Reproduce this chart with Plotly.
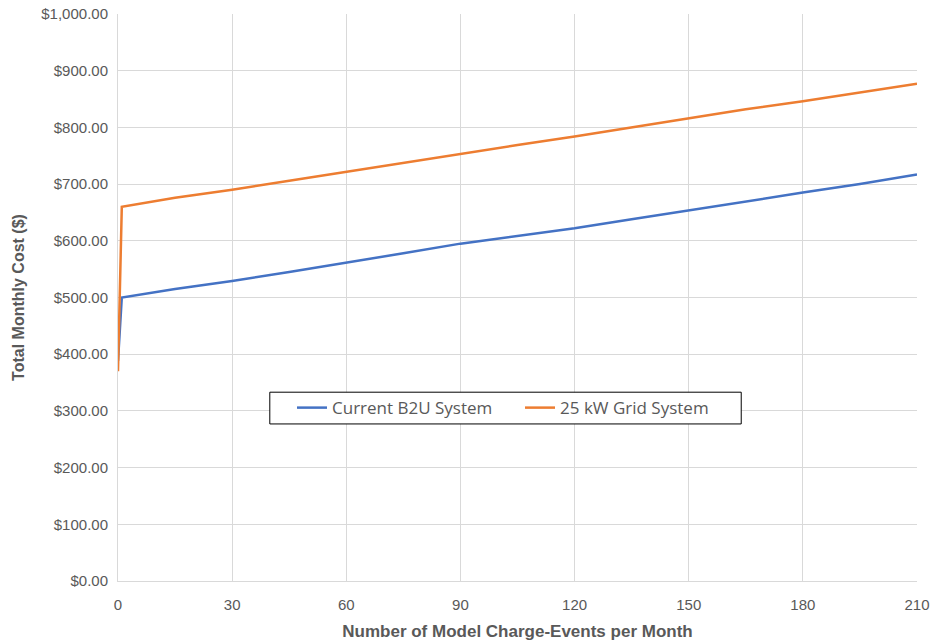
import plotly.graph_objects as go

events = [0, 1, 15, 30, 45, 60, 75, 90, 105, 120, 135, 150, 165, 180, 195, 210]
b2u_cost = [388, 500, 515, 529, 545, 561, 578, 595, 608, 622, 638, 654, 670, 685, 700, 717]
grid_cost = [370, 660, 676, 690, 706, 722, 737, 753, 769, 784, 800, 815, 832, 846, 862, 877]

x_ticks = [0, 30, 60, 90, 120, 150, 180, 210]
y_ticks = [0, 100, 200, 300, 400, 500, 600, 700, 800, 900, 1000]

fig = go.Figure()
fig.add_trace(go.Scatter(x=events, y=b2u_cost, mode="lines", name="Current B2U System",
                         line=dict(color="#4472C4", width=2.5)))
fig.add_trace(go.Scatter(x=events, y=grid_cost, mode="lines", name="25 kW Grid System",
                         line=dict(color="#ED7D31", width=2.5)))

# legend frame (white box with black border)
fig.add_shape(type="rect", xref="paper", yref="paper",
              x0=0.190, x1=0.780, y0=0.277, y1=0.333,
              line=dict(color="#000000", width=1), fillcolor="white", layer="above")

font_fam = "Liberation Sans, Arial"
fig.update_layout(
    width=932, height=641,
    margin=dict(l=118, r=15, t=14, b=60),
    paper_bgcolor="white", plot_bgcolor="white",
    font=dict(family=font_fam, color="#595959", size=15),
    showlegend=True,
    legend=dict(orientation="h", x=0.2178, y=0.305, xanchor="left", yanchor="middle",
                borderwidth=0, bgcolor="rgba(0,0,0,0)",
                font=dict(size=17, color="#595959", family="Open Sans, Liberation Sans"),
                entrywidth=183, itemwidth=30),
    xaxis=dict(range=[0, 210], tickvals=x_ticks, showgrid=True, gridcolor="#d9d9d9",
               showline=True, linecolor="#d9d9d9", linewidth=1, zeroline=False,
               ticks="", ticklabelstandoff=10, automargin=False, tickfont=dict(size=15),
               ticklabeloverflow="allow",
               title=dict(text="<b>Number of Model Charge-Events per Month</b>",
                          font=dict(size=17, color="#595959"), standoff=14)),
    yaxis=dict(range=[0, 1000], tickvals=y_ticks, tickformat="$,.2f", showgrid=True,
               gridcolor="#d9d9d9", showline=True, linecolor="#d9d9d9", linewidth=1,
               zeroline=False, ticks="", ticklabelstandoff=6, automargin=False,
               tickfont=dict(size=15), ticklabeloverflow="allow",
               title=dict(text="<b>Total Monthly Cost ($)</b>",
                          font=dict(size=16, color="#595959"), standoff=12)),
)
fig.write_html("out.html", config={"displayModeBar": False},
               post_script="document.body.style.margin='0';document.body.style.overflow='hidden';")
